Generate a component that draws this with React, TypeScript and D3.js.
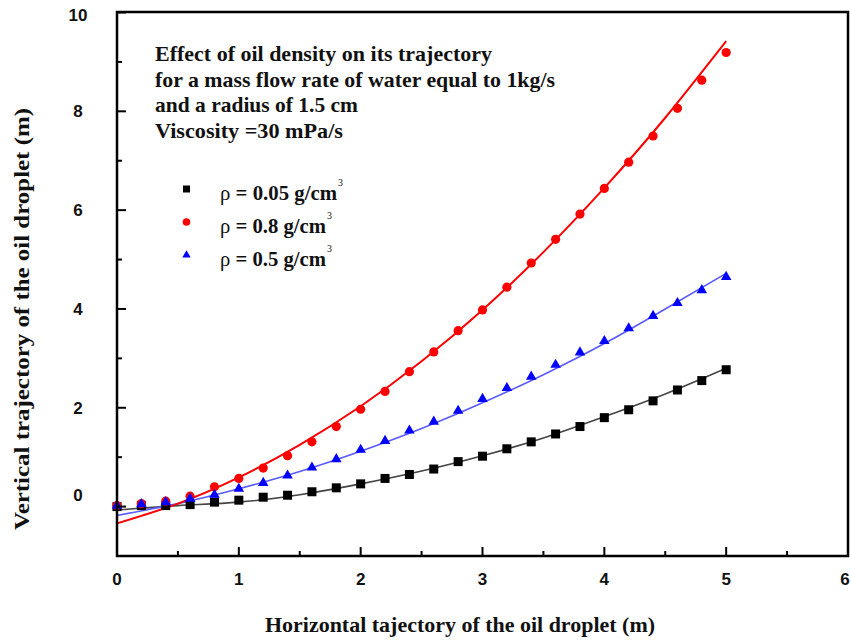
import React from "react";
import * as d3 from "d3";

const xPts = [0, 0.2, 0.4, 0.6, 0.8, 1.0, 1.2, 1.4, 1.6, 1.8, 2.0, 2.2, 2.4, 2.6, 2.8, 3.0, 3.2, 3.4, 3.6, 3.8, 4.0, 4.2, 4.4, 4.6, 4.8, 5.0];
const blackPts = [0.0, 0.02, 0.02, 0.04, 0.09, 0.13, 0.19, 0.23, 0.30, 0.38, 0.46, 0.57, 0.65, 0.76, 0.91, 1.02, 1.17, 1.31, 1.47, 1.62, 1.80, 1.96, 2.14, 2.36, 2.55, 2.77];
const redPts = [0.02, 0.06, 0.11, 0.21, 0.40, 0.57, 0.78, 1.03, 1.31, 1.62, 1.97, 2.33, 2.73, 3.13, 3.56, 3.98, 4.44, 4.93, 5.41, 5.92, 6.44, 6.97, 7.50, 8.06, 8.63, 9.19];
const bluePts = [0.02, 0.05, 0.09, 0.16, 0.24, 0.36, 0.48, 0.63, 0.79, 0.96, 1.15, 1.33, 1.54, 1.72, 1.94, 2.18, 2.40, 2.63, 2.87, 3.12, 3.35, 3.61, 3.86, 4.12, 4.38, 4.65];

const xFit = [0, 0.5, 1.0, 1.5, 2.0, 2.5, 3.0, 3.5, 4.0, 4.5, 5.0];
const blackFit = [-0.07, 0.02, 0.09, 0.24, 0.46, 0.72, 1.03, 1.39, 1.82, 2.28, 2.8];
const redFit = [-0.34, 0.06, 0.59, 1.25, 2.03, 2.94, 3.98, 5.15, 6.45, 7.87, 9.42];
const blueFit = [-0.18, 0.06, 0.36, 0.71, 1.12, 1.58, 2.1, 2.67, 3.3, 4.0, 4.72];

const xTicksMajor = [0, 1, 2, 3, 4, 5, 6];
const xTicksMinor = [0.5, 1.5, 2.5, 3.5, 4.5, 5.5];
const yTicksMajor = [0, 2, 4, 6, 8, 10];
const yTicksMinor = [-1, 1, 3, 5, 7, 9];

const legendValues = ["0.05", "0.8", "0.5"];
const noteLines = [
  "Effect of oil density on its trajectory",
  "for a mass flow rate of water equal to 1kg/s",
  "and a radius of 1.5 cm",
  "Viscosity =30 mPa/s",
];
const noteWidths = [337, 400, 203, 188];
const legendWidths = [117, 106, 106];

const W = 851, H = 641;
const L = 117, R = 848, T = 12, B = 556;

export default function App() {
  const x = d3.scaleLinear().domain([0, 6]).range([L, R]);
  const y = d3.scaleLinear().domain([-1, 10]).range([B, T + 0.5]);
  const line = d3
    .line<[number, number]>()
    .x((d) => x(d[0]))
    .y((d) => y(d[1]))
    .curve(d3.curveNatural);
  const fit = (vals: number[]) => line(xFit.map((v, i) => [v, vals[i]] as [number, number])) || "";
  const tri = d3.symbol().type(d3.symbolTriangle).size(48)() || "";
  const triSmall = d3.symbol().type(d3.symbolTriangle).size(30)() || "";
  const serif = "'Liberation Serif', 'Times New Roman', serif";
  const sans = "'Liberation Sans', Arial, sans-serif";

  return (
    <svg width={W} height={H} style={{ position: "absolute", left: 0, top: 0, background: "#fff" }}>
      <rect x={0} y={0} width={W} height={H} fill="#fff" />
      {/* fits */}
      <path d={fit(blackFit)} fill="none" stroke="#444" strokeWidth={1.6} />
      <path d={fit(blueFit)} fill="none" stroke="#5a5aff" strokeWidth={1.6} />
      <path d={fit(redFit)} fill="none" stroke="#ff0000" strokeWidth={2} />
      {/* points */}
      {xPts.map((v, i) => (
        <rect key={"b" + i} x={x(v) - 4.5} y={y(blackPts[i]) - 4.5} width={9} height={9} fill="#000" />
      ))}
      {xPts.map((v, i) => (
        <circle key={"r" + i} cx={x(v)} cy={y(redPts[i])} r={4.6} fill="#ff0000" />
      ))}
      {xPts.map((v, i) => (
        <path key={"t" + i} d={tri} transform={`translate(${x(v)},${y(bluePts[i])})`} fill="#0000ff" />
      ))}
      {/* frame */}
      <rect x={L} y={T} width={R - L} height={B - T} fill="none" stroke="#000" strokeWidth={2.5} />
      {xTicksMajor.map((v) => (
        <g key={"xt" + v}>
          <line x1={x(v)} x2={x(v)} y1={B} y2={B - 9} stroke="#000" strokeWidth={2} />
          <text x={Math.min(x(v), 845)} y={585} textAnchor="middle" fontFamily={sans} fontWeight="bold" fontSize={17} fill="#111">
            {v}
          </text>
        </g>
      ))}
      {xTicksMinor.map((v) => (
        <line key={"xm" + v} x1={x(v)} x2={x(v)} y1={B} y2={B - 5} stroke="#000" strokeWidth={2} />
      ))}
      {yTicksMajor.map((v) => (
        <g key={"yt" + v}>
          <line x1={L} x2={L + 9} y1={y(v)} y2={y(v)} stroke="#000" strokeWidth={2} />
          <text x={78} y={y(v) + (v === 0 ? -12 : v === 10 ? 3 : 0)} dy="0.35em" textAnchor="middle" fontFamily={sans} fontWeight="bold" fontSize={17} fill="#111">
            {v}
          </text>
        </g>
      ))}
      {yTicksMinor.map((v) => (
        <line key={"ym" + v} x1={L} x2={L + 5} y1={y(v)} y2={y(v)} stroke="#000" strokeWidth={2} />
      ))}
      {/* axis titles */}
      <text x={265} y={632} textLength={390} lengthAdjust="spacingAndGlyphs" fontFamily={serif} fontWeight="bold" fontSize={21} fill="#111">
        Horizontal tajectory of the oil droplet (m)
      </text>
      <text
        transform={`translate(29,530) rotate(-90)`}
        textLength={422}
        lengthAdjust="spacingAndGlyphs"
        fontFamily={serif}
        fontWeight="bold"
        fontSize={21}
        fill="#111"
      >
        Vertical trajectory of the oil droplet (m)
      </text>
      {/* note */}
      {noteLines.map((s, i) => (
        <text key={"n" + i} x={155} y={61 + i * 25.5} textLength={noteWidths[i]} lengthAdjust="spacingAndGlyphs" fontFamily={serif} fontWeight="bold" fontSize={21} fill="#111">
          {s}
        </text>
      ))}
      {/* legend */}
      {legendValues.map((s, i) => {
        const ly = 189 + i * 33;
        const w = legendWidths[i];
        return (
          <g key={"l" + i}>
            {i === 0 && <rect x={183} y={ly - 3.5} width={7} height={7} fill="#000" />}
            {i === 1 && <circle cx={186.5} cy={ly} r={3.8} fill="#ff0000" />}
            {i === 2 && <path d={triSmall} transform={`translate(186.5,${ly})`} fill="#0000ff" />}
            <text x={220} y={ly + 11} textLength={w} lengthAdjust="spacingAndGlyphs" fontFamily={serif} fontWeight="bold" fontSize={21} fill="#111">
              <tspan fontWeight="normal">ρ</tspan> = {s} g/cm
            </text>
            <text x={220 + w + 1} y={ly - 3} fontFamily={serif} fontSize={10} fill="#111">
              3
            </text>
          </g>
        );
      })}
    </svg>
  );
}
